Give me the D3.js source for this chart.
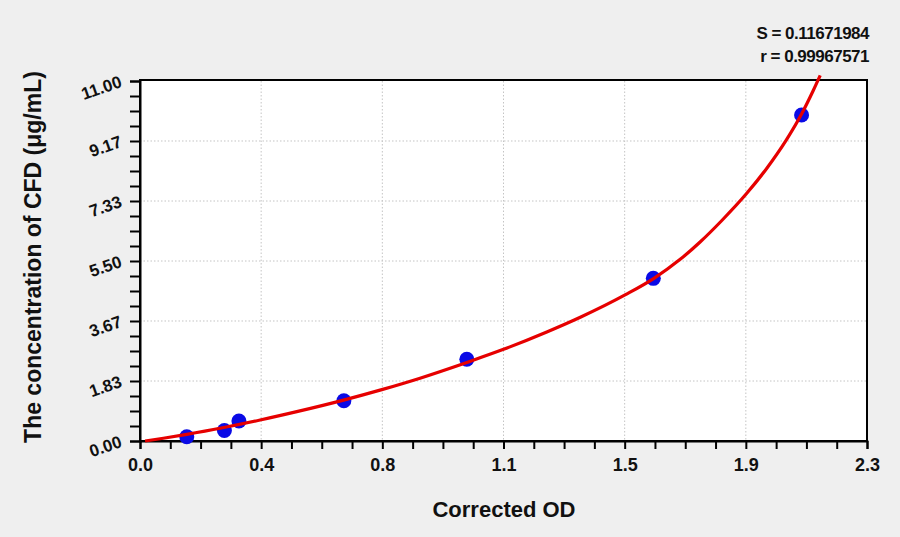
<!DOCTYPE html>
<html>
<head>
<meta charset="utf-8">
<script src="https://cdn.jsdelivr.net/npm/d3@7"></script>
<style>
  html, body { margin: 0; padding: 0; background: #efefef; }
  svg { display: block; }
  text { font-family: "Liberation Sans", Arial, sans-serif; font-weight: bold; fill: #111; }
</style>
</head>
<body>
<svg id="chart" width="900" height="537"></svg>
<script>
// ---- data ----
const pointOD   = [0.148, 0.267, 0.313, 0.645, 1.034, 1.624, 2.093];
const pointConc = [0.13, 0.32, 0.61, 1.23, 2.50, 4.97, 9.96];

const curveOD   = [0.016, 0.074, 0.148, 0.269, 0.380, 0.496, 0.644, 0.765, 0.886, 1.034, 1.150, 1.287, 1.393, 1.536, 1.626, 1.709, 1.772, 1.840, 1.919, 1.982, 2.045, 2.093, 2.130, 2.152];
const curveConc = [0.00, 0.084, 0.202, 0.420, 0.642, 0.897, 1.25, 1.57, 1.92, 2.40, 2.80, 3.33, 3.78, 4.47, 4.97, 5.55, 6.08, 6.73, 7.56, 8.32, 9.20, 9.99, 10.71, 11.17];

const xTickValues = [0, 0.38333, 0.76667, 1.15, 1.53333, 1.91667, 2.3];
const xTickLabels = ["0.0", "0.4", "0.8", "1.1", "1.5", "1.9", "2.3"];
const yTickValues = [0, 1.83333, 3.66667, 5.5, 7.33333, 9.16667, 11];
const yTickLabels = ["0.00", "1.83", "3.67", "5.50", "7.33", "9.17", "11.00"];

const statLines = ["S = 0.11671984", "r = 0.99967571"];
const xTitle = "Corrected OD";
const yTitle = "The concentration of CFD (μg/mL)";

// ---- layout ----
const svg = d3.select("#chart");
const L = 140, R = 867, T = 81, B = 441;

const x = d3.scaleLinear().domain([0, 2.3]).range([L, R]);
const y = d3.scaleLinear().domain([0, 11]).range([B, T]);

// minor tick positions (quarters between majors)
function minors(vals) {
  const out = [];
  for (let i = 0; i < vals.length - 1; i++) {
    const a = vals[i], b = vals[i + 1];
    for (let k = 1; k < 4; k++) out.push(a + (b - a) * k / 4);
  }
  return out;
}

// plot background
svg.append("rect").attr("x", L).attr("y", T - 1).attr("width", R - L).attr("height", B - T + 1)
  .attr("fill", "#ffffff");

// grid
const grid = svg.append("g");
grid.selectAll("line.vx").data(xTickValues.slice(1, -1)).join("line")
  .attr("x1", d => x(d)).attr("x2", d => x(d)).attr("y1", T).attr("y2", B)
  .attr("stroke", "#c4c4c4").attr("stroke-width", 1).attr("stroke-dasharray", "1.5,2");
grid.selectAll("line.hy").data(yTickValues.slice(1, -1)).join("line")
  .attr("x1", L).attr("x2", R).attr("y1", d => y(d)).attr("y2", d => y(d))
  .attr("stroke", "#c4c4c4").attr("stroke-width", 1).attr("stroke-dasharray", "1.5,2");

// border
svg.append("rect").attr("x", L).attr("y", T - 1).attr("width", R - L).attr("height", B - T + 1)
  .attr("fill", "none").attr("stroke", "#000").attr("stroke-width", 2);

// x axis
const xAxis = svg.append("g").attr("transform", `translate(0,${B})`)
  .call(d3.axisBottom(x).tickValues(xTickValues)
    .tickFormat((d, i) => xTickLabels[i]).tickSize(8).tickPadding(9));
xAxis.select(".domain").attr("stroke", "#000").attr("stroke-width", 2);
xAxis.selectAll(".tick line").attr("stroke", "#000").attr("stroke-width", 2);
xAxis.selectAll(".tick text").attr("font-size", 18).attr("font-family", "Liberation Sans, Arial, sans-serif")
  .attr("font-weight", "bold").attr("fill", "#111");
const xMinor = svg.append("g").attr("transform", `translate(0,${B})`)
  .call(d3.axisBottom(x).tickValues(minors(xTickValues)).tickFormat("").tickSize(8));
xMinor.select(".domain").remove();
xMinor.selectAll(".tick line").attr("stroke", "#000").attr("stroke-width", 2);

// y axis
const yAxis = svg.append("g").attr("transform", `translate(${L},0)`)
  .call(d3.axisLeft(y).tickValues(yTickValues).tickFormat((d, i) => yTickLabels[i]).tickSize(10));
yAxis.select(".domain").attr("stroke", "#000").attr("stroke-width", 2);
yAxis.selectAll(".tick line").attr("stroke", "#000").attr("stroke-width", 2);
yAxis.selectAll(".tick text")
  .attr("font-size", 17).attr("font-family", "Liberation Sans, Arial, sans-serif")
  .attr("font-weight", "bold").attr("fill", "#111")
  .attr("x", null).attr("dy", null).attr("text-anchor", "end")
  .attr("transform", "translate(-17,5) rotate(-19)");
const yMinor = svg.append("g").attr("transform", `translate(${L},0)`)
  .call(d3.axisLeft(y).tickValues(minors(yTickValues)).tickFormat("").tickSize(10));
yMinor.select(".domain").remove();
yMinor.selectAll(".tick line").attr("stroke", "#000").attr("stroke-width", 2);

// points
const pts = pointOD.map((v, i) => [v, pointConc[i]]);
svg.append("g").selectAll("circle").data(pts).join("circle")
  .attr("cx", d => x(d[0])).attr("cy", d => y(d[1])).attr("r", 7.5)
  .attr("fill", "#0a0ae6");

// fitted curve
const cpts = curveOD.map((v, i) => [v, curveConc[i]]);
svg.append("path").datum(cpts)
  .attr("d", d3.line().x(d => x(d[0])).y(d => y(d[1])).curve(d3.curveMonotoneX))
  .attr("fill", "none").attr("stroke", "#e60000").attr("stroke-width", 3.2);

// stats text
svg.append("g").selectAll("text").data(statLines).join("text")
  .attr("x", 869).attr("y", (d, i) => 39 + i * 22.5)
  .attr("text-anchor", "end").attr("font-size", 17).attr("letter-spacing", "-0.5")
  .text(d => d);

// axis titles
svg.append("text").attr("x", 504).attr("y", 517).attr("text-anchor", "middle")
  .attr("font-size", 22).text(xTitle);
svg.append("text").attr("transform", "translate(41,257) rotate(-90)")
  .attr("text-anchor", "middle").attr("font-size", 23).text(yTitle);
</script>
</body>
</html>
